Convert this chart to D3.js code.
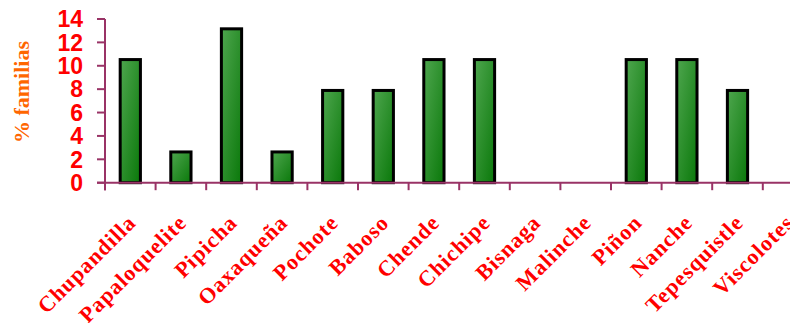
<!DOCTYPE html>
<html>
<head>
<meta charset="utf-8">
<script src="https://cdn.jsdelivr.net/npm/d3@7"></script>
<style>
  html, body { margin: 0; padding: 0; background: #fff; }
  svg { display: block; }
</style>
</head>
<body>
<svg id="chart" width="790" height="323"></svg>
<script>
// Tree species and share of families (%) that use each one
const categories = ["Chupandilla", "Papaloquelite", "Pipicha", "Oaxaqueña", "Pochote", "Baboso",
  "Chende", "Chichipe", "Bisnaga", "Malinche", "Piñon", "Nanche", "Tepesquistle", "Viscolotes"];
const values = [10.53, 2.63, 13.16, 2.63, 7.89, 7.89, 10.53, 10.53, 0, 0, 10.53, 10.53, 7.89, 0];
const yTicks = [0, 2, 4, 6, 8, 10, 12, 14];
const yTitle = "% familias";

const svg = d3.select("#chart");
const axisColor = "#993366";

const x = d3.scaleBand()
  .domain(categories)
  .range([105, 813.4])
  .paddingInner(0.6)
  .paddingOuter(0.3);

const y = d3.scaleLinear().domain([0, 14]).range([182.7, 19]);

// Diagonal green gradient for the bars
const defs = svg.append("defs");
const grad = defs.append("linearGradient")
  .attr("id", "barFill")
  .attr("x1", "0%").attr("y1", "0%")
  .attr("x2", "100%").attr("y2", "100%");
grad.append("stop").attr("offset", "0%").attr("stop-color", "#4ea64e");
grad.append("stop").attr("offset", "100%").attr("stop-color", "#0a780a");

// Bars
svg.append("g")
  .selectAll("rect")
  .data(categories.map((c, i) => ({ c, v: values[i] })).filter(d => d.v > 0))
  .join("rect")
  .attr("x", d => x(d.c))
  .attr("y", d => y(d.v))
  .attr("width", x.bandwidth())
  .attr("height", d => y(0) - y(d.v))
  .attr("fill", "url(#barFill)")
  .attr("stroke", "#000")
  .attr("stroke-width", 3);

// Y axis
const yAxis = svg.append("g").attr("transform", "translate(105,0)");
yAxis.append("line")
  .attr("x1", 0).attr("x2", 0)
  .attr("y1", y(14)).attr("y2", y(0) + 7.5)
  .attr("stroke", axisColor).attr("stroke-width", 2);
yAxis.selectAll("line.tick")
  .data(yTicks)
  .join("line")
  .attr("class", "tick")
  .attr("x1", -8).attr("x2", 0)
  .attr("y1", d => y(d)).attr("y2", d => y(d))
  .attr("stroke", axisColor).attr("stroke-width", 2);
yAxis.selectAll("text")
  .data(yTicks)
  .join("text")
  .attr("x", -22)
  .attr("y", d => y(d))
  .attr("dy", "0.36em")
  .attr("text-anchor", "end")
  .attr("font-family", "Liberation Sans, Arial, sans-serif")
  .attr("font-weight", "bold")
  .attr("font-size", 23)
  .attr("fill", "#ff0000")
  .text(d => d);

// X axis with ticks on category boundaries
const boundaries = d3.range(categories.length + 1).map(i => x(categories[0]) - x.step() * x.paddingOuter() + i * x.step());
const xAxis = svg.append("g");
xAxis.append("line")
  .attr("x1", 97).attr("x2", 790)
  .attr("y1", y(0)).attr("y2", y(0))
  .attr("stroke", axisColor).attr("stroke-width", 2);
xAxis.selectAll("line.tick")
  .data(boundaries)
  .join("line")
  .attr("class", "tick")
  .attr("x1", d => d).attr("x2", d => d)
  .attr("y1", y(0)).attr("y2", y(0) + 7.5)
  .attr("stroke", axisColor).attr("stroke-width", 2);

// Rotated category labels
svg.append("g")
  .selectAll("text")
  .data(categories)
  .join("text")
  .attr("transform", d => `translate(${x(d) + x.bandwidth() / 2 + 7},224) rotate(-45)`)
  .attr("text-anchor", "end")
  .attr("font-family", "Liberation Serif, Times New Roman, serif")
  .attr("font-weight", "bold")
  .attr("font-size", 22)
  .attr("letter-spacing", 1)
  .attr("fill", "#ff0000")
  .text(d => d);

// Y axis title
svg.append("text")
  .attr("transform", "translate(29,92) rotate(-90)")
  .attr("text-anchor", "middle")
  .attr("font-family", "Liberation Serif, Times New Roman, serif")
  .attr("font-weight", "bold")
  .attr("font-size", 22)
  .attr("fill", "#ff6600")
  .text(yTitle);
</script>
</body>
</html>
